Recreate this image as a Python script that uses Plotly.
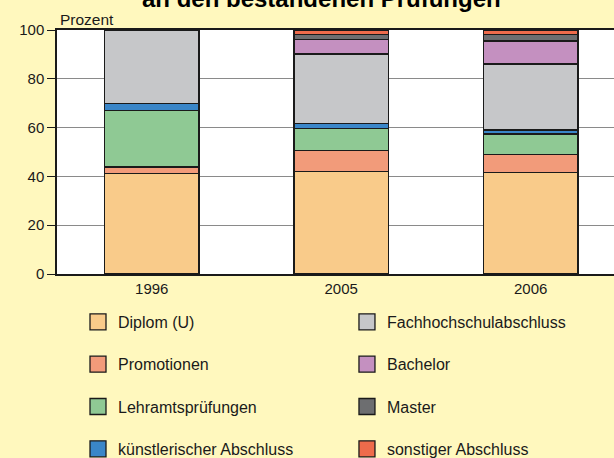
import plotly.graph_objects as go

years = ["1996", "2005", "2006"]
series = [
    "Diplom (U)", "Promotionen", "Lehramtsprüfungen", "künstlerischer Abschluss",
    "Fachhochschulabschluss", "Bachelor", "Master", "sonstiger Abschluss",
]
diplom = [41.1, 41.9, 41.5]
promotionen = [2.7, 8.6, 7.6]
lehramt = [23.3, 9.1, 8.3]
kuenstlerisch = [2.7, 2.0, 1.6]
fachhochschule = [30.2, 28.5, 27.0]
bachelor = [0.0, 6.1, 9.5]
master = [0.0, 2.0, 2.7]
sonstige = [0.0, 1.8, 1.8]
values = [diplom, promotionen, lehramt, kuenstlerisch, fachhochschule, bachelor, master, sonstige]
colors = ["#F9CB8A", "#F29B7A", "#8FC994", "#3A86C8", "#C6C7C9", "#C490C0", "#6D6E70", "#EE6B4B"]
legend_ids = ["legend"] * 4 + ["legend2"] * 4

fig = go.Figure()
for name, vals, col in zip(series, values, colors):
    fig.add_trace(go.Bar(
        x=years, y=vals, name=name, width=0.5,
        marker=dict(color=col, line=dict(color="#1a1a1a", width=1.4)),
        showlegend=False, legendgroup=name,
    ))
# legend entries (square swatches)
for name, col, lg in zip(series, colors, legend_ids):
    fig.add_trace(go.Scatter(
        x=[None], y=[None], mode="markers", name=name,
        marker=dict(symbol="square", size=16, color=col,
                    line=dict(color="#1a1a1a", width=1.3)),
        legend=lg, legendgroup=name, showlegend=True,
    ))

font = "Liberation Sans, Arial, sans-serif"
bg = "#FFF8BE"
fig.update_layout(
    width=614, height=458,
    margin=dict(l=57, r=0, t=29.5, b=183.5, autoexpand=False),
    barmode="stack",
    paper_bgcolor=bg, plot_bgcolor="white",
    font=dict(family=font, size=15, color="#1a1a1a"),
    showlegend=True,
    legend=dict(x=0.0377, y=-0.127, xanchor="left", yanchor="top",
                traceorder="grouped", tracegroupgap=18.5, itemsizing="trace",
                bgcolor="rgba(0,0,0,0)", font=dict(size=16)),
    legend2=dict(x=0.5206, y=-0.127, xanchor="left", yanchor="top",
                 traceorder="grouped", tracegroupgap=18.5, itemsizing="trace",
                 bgcolor="rgba(0,0,0,0)", font=dict(size=16)),
    xaxis=dict(range=[-0.5, 2.44], showline=True, linecolor="#1a1a1a", linewidth=1.5,
               mirror=True, ticks="", showgrid=False, tickfont=dict(size=15)),
    yaxis=dict(range=[0, 100], tickvals=[0, 20, 40, 60, 80, 100],
               showline=True, linecolor="#1a1a1a", linewidth=1.5,
               ticks="outside", ticklen=8, tickcolor="#1a1a1a",
               showgrid=True, gridcolor="#8a8a8a", gridwidth=1.2,
               tickfont=dict(size=15), zeroline=False),
    annotations=[
        dict(text="Prozent", xref="paper", yref="paper", x=0.002, y=1.0,
             xanchor="left", yanchor="bottom", showarrow=False,
             font=dict(size=15.5)),
        dict(text="<b>an den bestandenen Prüfungen</b>", xref="paper", yref="paper",
             x=0.475, y=1.067, xanchor="center", yanchor="bottom", showarrow=False,
             font=dict(size=24, color="#000000")),
    ],
)

fig.write_html(
    "out.html",
    config={"displayModeBar": False},
    post_script="document.body.style.margin='0';document.body.style.overflow='hidden';document.body.style.background='#FFF8BE';",
)
